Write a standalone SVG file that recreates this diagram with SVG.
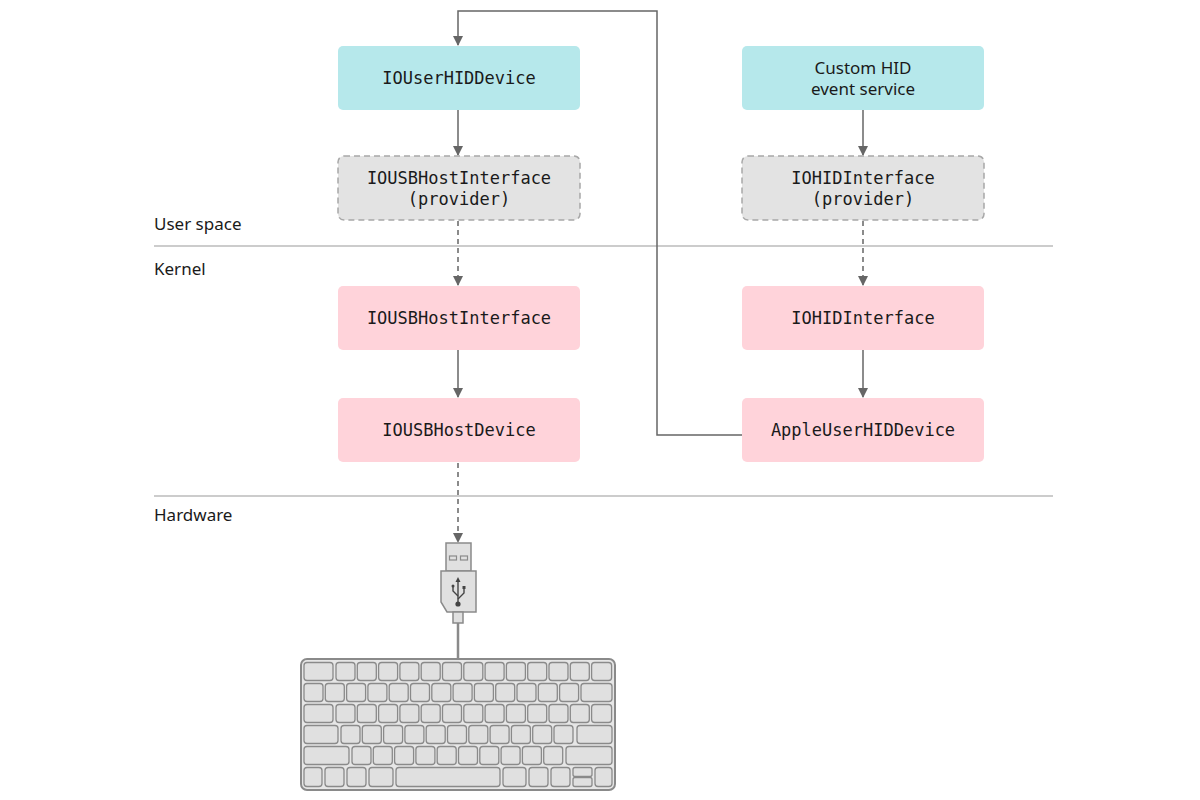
<svg xmlns="http://www.w3.org/2000/svg" width="1200" height="800" viewBox="0 0 1200 800">
<style>
.cyan{fill:#b6e8eb}.pink{fill:#ffd3da}.prov{fill:#e3e3e3;stroke:#a8a8a8;stroke-width:1.5;stroke-dasharray:6 4}
.mono{font-family:"DejaVu Sans Mono","Liberation Mono",monospace;font-size:17px;fill:#1a1a1a;text-anchor:middle}
.sans{font-family:"Noto Sans","Liberation Sans",sans-serif;font-size:17px;fill:#1a1a1a}
.c{stroke:#666;stroke-width:1.5;fill:none}.d{stroke-dasharray:5 4}
.k{fill:#e0e0e0;stroke:#8a8a8a;stroke-width:1.3}
</style>
<defs><marker id="a" markerWidth="10" markerHeight="10" refX="9" refY="5" orient="auto" markerUnits="userSpaceOnUse"><path d="M0,0 L10,5 L0,10 z" fill="#666"/></marker></defs>
<g id="layers" stroke="#999" stroke-width="1.2">
<line x1="154" y1="246" x2="1053" y2="246"/><line x1="154" y1="496" x2="1053" y2="496"/>
</g>
<text class="sans" x="154" y="230">User space</text>
<text class="sans" x="154" y="275">Kernel</text>
<text class="sans" x="154" y="521">Hardware</text>
<g id="connectors">
<path class="c" d="M742,435 H657 V11 H458 V45" marker-end="url(#a)"/>
<line class="c" x1="458" y1="110" x2="458" y2="155" marker-end="url(#a)"/>
<line class="c d" x1="458" y1="221" x2="458" y2="285" marker-end="url(#a)"/>
<line class="c" x1="458" y1="350" x2="458" y2="397" marker-end="url(#a)"/>
<line class="c d" x1="458" y1="463" x2="458" y2="542" marker-end="url(#a)"/>
<line class="c" x1="863" y1="110" x2="863" y2="155" marker-end="url(#a)"/>
<line class="c d" x1="863" y1="221" x2="863" y2="285" marker-end="url(#a)"/>
<line class="c" x1="863" y1="350" x2="863" y2="397" marker-end="url(#a)"/>
</g>
<g id="n1"><rect class="cyan" x="338" y="46" width="242" height="64" rx="5"/><text class="mono" x="459" y="84">IOUserHIDDevice</text></g>
<g id="n2"><rect class="cyan" x="742" y="46" width="242" height="64" rx="5"/><text class="sans" x="863" y="74" text-anchor="middle">Custom HID</text><text class="sans" x="863" y="95" text-anchor="middle">event service</text></g>
<g id="n3"><rect class="prov" x="338" y="156" width="242" height="64" rx="6"/><text class="mono" x="459" y="184">IOUSBHostInterface</text><text class="mono" x="459" y="205">(provider)</text></g>
<g id="n4"><rect class="prov" x="742" y="156" width="242" height="64" rx="6"/><text class="mono" x="863" y="184">IOHIDInterface</text><text class="mono" x="863" y="205">(provider)</text></g>
<g id="n5"><rect class="pink" x="338" y="286" width="242" height="64" rx="5"/><text class="mono" x="459" y="324">IOUSBHostInterface</text></g>
<g id="n6"><rect class="pink" x="742" y="286" width="242" height="64" rx="5"/><text class="mono" x="863" y="324">IOHIDInterface</text></g>
<g id="n7"><rect class="pink" x="338" y="398" width="242" height="64" rx="5"/><text class="mono" x="459" y="436">IOUSBHostDevice</text></g>
<g id="n8"><rect class="pink" x="742" y="398" width="242" height="64" rx="5"/><text class="mono" x="863" y="436">AppleUserHIDDevice</text></g>
<g id="usb" fill="#e0e0e0" stroke="#8a8a8a" stroke-width="1.5">
<line x1="458" y1="623" x2="458" y2="659" stroke="#8a8a8a" stroke-width="2.5"/>
<rect x="446" y="543" width="25" height="28"/>
<rect x="449.5" y="556" width="7" height="4" fill="none" stroke-width="1.2"/><rect x="460.5" y="556" width="7" height="4" fill="none" stroke-width="1.2"/>
<path d="M441,571 H476 V612 H447 L441,602 Z"/>
<rect x="453" y="612" width="10" height="11"/>
<g stroke="#444" stroke-width="1.4" fill="none"><line x1="458" y1="580" x2="458" y2="604"/><path d="M458,596 L453,591 V587"/><path d="M458,599 L464,593 V588"/></g>
<circle cx="458" cy="604" r="2.6" fill="#444" stroke="none"/><path d="M455.5,582 L458,577 L460.5,582 Z" fill="#444" stroke="none"/>
<circle cx="453" cy="586" r="1.5" fill="#444" stroke="none"/><rect x="462.5" y="586" width="3" height="3" fill="#444" stroke="none"/>
</g>
<g id="keyboard">
<rect x="301" y="659" width="314" height="131" rx="6" fill="#e6e6e6" stroke="#8a8a8a" stroke-width="2"/>
<g class="k">
<rect x="304" y="662.5" width="29" height="18" rx="3"/>
<rect x="336" y="662.5" width="19" height="18" rx="3"/><rect x="357.3" y="662.5" width="19" height="18" rx="3"/><rect x="378.6" y="662.5" width="19" height="18" rx="3"/><rect x="399.9" y="662.5" width="19" height="18" rx="3"/><rect x="421.2" y="662.5" width="19" height="18" rx="3"/><rect x="442.5" y="662.5" width="19" height="18" rx="3"/><rect x="463.8" y="662.5" width="19" height="18" rx="3"/><rect x="485.1" y="662.5" width="19" height="18" rx="3"/><rect x="506.4" y="662.5" width="19" height="18" rx="3"/><rect x="527.7" y="662.5" width="19" height="18" rx="3"/><rect x="549" y="662.5" width="19" height="18" rx="3"/><rect x="570.3" y="662.5" width="19" height="18" rx="3"/><rect x="591.6" y="662.5" width="20" height="18" rx="3"/>
<rect x="304" y="683.5" width="19" height="18" rx="3"/><rect x="325.3" y="683.5" width="19" height="18" rx="3"/><rect x="346.6" y="683.5" width="19" height="18" rx="3"/><rect x="367.9" y="683.5" width="19" height="18" rx="3"/><rect x="389.2" y="683.5" width="19" height="18" rx="3"/><rect x="410.5" y="683.5" width="19" height="18" rx="3"/><rect x="431.8" y="683.5" width="19" height="18" rx="3"/><rect x="453.1" y="683.5" width="19" height="18" rx="3"/><rect x="474.4" y="683.5" width="19" height="18" rx="3"/><rect x="495.7" y="683.5" width="19" height="18" rx="3"/><rect x="517" y="683.5" width="19" height="18" rx="3"/><rect x="538.3" y="683.5" width="19" height="18" rx="3"/><rect x="559.6" y="683.5" width="19" height="18" rx="3"/><rect x="581" y="683.5" width="31" height="18" rx="3"/>
<rect x="304" y="704.5" width="29" height="18" rx="3"/>
<rect x="336" y="704.5" width="19" height="18" rx="3"/><rect x="357.3" y="704.5" width="19" height="18" rx="3"/><rect x="378.6" y="704.5" width="19" height="18" rx="3"/><rect x="399.9" y="704.5" width="19" height="18" rx="3"/><rect x="421.2" y="704.5" width="19" height="18" rx="3"/><rect x="442.5" y="704.5" width="19" height="18" rx="3"/><rect x="463.8" y="704.5" width="19" height="18" rx="3"/><rect x="485.1" y="704.5" width="19" height="18" rx="3"/><rect x="506.4" y="704.5" width="19" height="18" rx="3"/><rect x="527.7" y="704.5" width="19" height="18" rx="3"/><rect x="549" y="704.5" width="19" height="18" rx="3"/><rect x="570.3" y="704.5" width="19" height="18" rx="3"/><rect x="591.6" y="704.5" width="20" height="18" rx="3"/>
<rect x="304" y="725.5" width="34" height="18" rx="3"/>
<rect x="341" y="725.5" width="19" height="18" rx="3"/><rect x="362.3" y="725.5" width="19" height="18" rx="3"/><rect x="383.6" y="725.5" width="19" height="18" rx="3"/><rect x="404.9" y="725.5" width="19" height="18" rx="3"/><rect x="426.2" y="725.5" width="19" height="18" rx="3"/><rect x="447.5" y="725.5" width="19" height="18" rx="3"/><rect x="468.8" y="725.5" width="19" height="18" rx="3"/><rect x="490.1" y="725.5" width="19" height="18" rx="3"/><rect x="511.4" y="725.5" width="19" height="18" rx="3"/><rect x="532.7" y="725.5" width="19" height="18" rx="3"/><rect x="554" y="725.5" width="19" height="18" rx="3"/><rect x="577" y="725.5" width="35" height="18" rx="3"/>
<rect x="304" y="746.5" width="45" height="18" rx="3"/>
<rect x="352" y="746.5" width="19" height="18" rx="3"/><rect x="373.3" y="746.5" width="19" height="18" rx="3"/><rect x="394.6" y="746.5" width="19" height="18" rx="3"/><rect x="415.9" y="746.5" width="19" height="18" rx="3"/><rect x="437.2" y="746.5" width="19" height="18" rx="3"/><rect x="458.5" y="746.5" width="19" height="18" rx="3"/><rect x="479.8" y="746.5" width="19" height="18" rx="3"/><rect x="501.1" y="746.5" width="19" height="18" rx="3"/><rect x="522.4" y="746.5" width="19" height="18" rx="3"/><rect x="543.7" y="746.5" width="19" height="18" rx="3"/><rect x="566" y="746.5" width="46" height="18" rx="3"/>
<rect x="304" y="767.5" width="18" height="19" rx="3"/><rect x="325" y="767.5" width="19" height="19" rx="3"/><rect x="347" y="767.5" width="19" height="19" rx="3"/><rect x="369" y="767.5" width="24" height="19" rx="3"/><rect x="396" y="767.5" width="104" height="19" rx="3"/><rect x="503" y="767.5" width="23" height="19" rx="3"/><rect x="529" y="767.5" width="19" height="19" rx="3"/><rect x="551" y="767.5" width="19" height="19" rx="3"/><rect x="573" y="767.5" width="19" height="9" rx="2"/><rect x="573" y="777.5" width="19" height="9" rx="2"/><rect x="595" y="767.5" width="17" height="19" rx="3"/>
</g>
</g>
</svg>
